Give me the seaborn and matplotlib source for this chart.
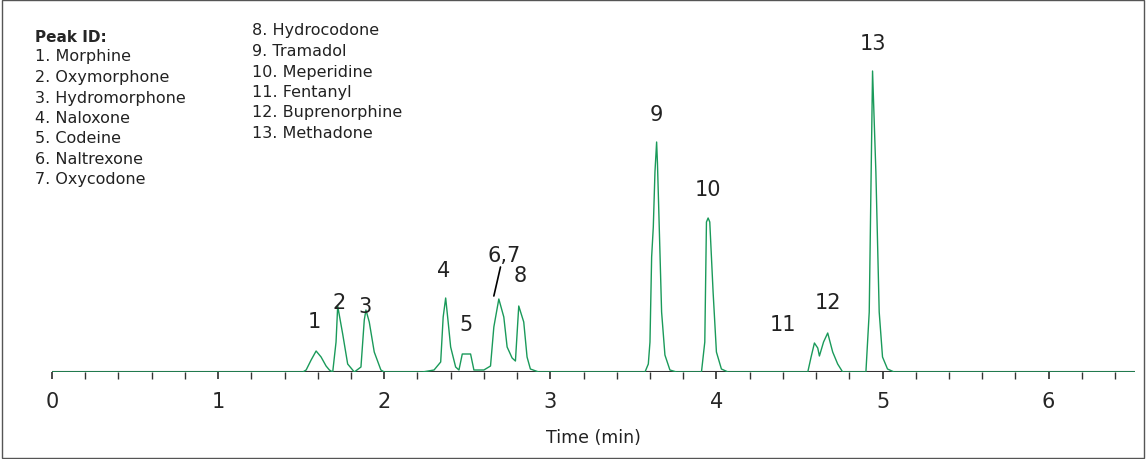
import matplotlib
matplotlib.use("Agg")
import matplotlib.pyplot as plt
import seaborn as sns
import pandas as pd
from matplotlib.ticker import MultipleLocator

# chromatogram trace (time in min, signal in arbitrary units)
time = [0.0, 1.51, 1.53, 1.56, 1.59, 1.62, 1.65, 1.67, 1.69, 1.71, 1.72, 1.75, 1.78, 1.82,
        1.86, 1.88, 1.89, 1.91, 1.94, 1.98, 2.00, 2.23, 2.30, 2.34, 2.355, 2.37, 2.385,
        2.40, 2.43, 2.45, 2.47, 2.52, 2.54, 2.60, 2.64, 2.66, 2.69, 2.72, 2.74, 2.77,
        2.79, 2.81, 2.84, 2.86, 2.88, 2.93, 3.57, 3.59, 3.60, 3.61, 3.62, 3.63, 3.64,
        3.645, 3.66, 3.67, 3.69, 3.72, 3.76, 3.91, 3.93, 3.94, 3.95, 3.96, 3.98, 4.00,
        4.03, 4.07, 4.55, 4.57, 4.59, 4.61, 4.62, 4.645, 4.67, 4.70, 4.73, 4.76, 4.90,
        4.92, 4.94, 4.96, 4.98, 5.00, 5.03, 5.07, 6.52]
signal = [0, 0, 2, 12, 21, 15, 6, 2, 0, 30, 66, 38, 8, 0,
          5, 52, 62, 50, 20, 2, 0, 0, 2, 10, 55, 74, 50,
          25, 5, 2, 18, 18, 2, 2, 6, 45, 73, 55, 25, 14,
          11, 66, 50, 15, 3, 0, 0, 8, 30, 115, 145, 200, 230,
          209, 120, 60, 17, 2, 0, 0, 30, 150, 154, 150, 80, 20,
          3, 0, 0, 15, 29, 24, 16, 30, 39, 20, 8, 0, 0,
          60, 301, 200, 60, 15, 3, 0, 0]

peak_labels = ["1", "2", "3", "4", "5", "6,7", "8", "9", "10", "11", "12", "13"]
label_x = [1.58, 1.73, 1.885, 2.36, 2.49, 2.72, 2.82, 3.64, 3.95, 4.40, 4.67, 4.94]
label_y = [51, 70, 66, 102, 48, 117, 97, 258, 183, 48, 70, 329]

peak_ids = ["1. Morphine", "2. Oxymorphone", "3. Hydromorphone", "4. Naloxone",
            "5. Codeine", "6. Naltrexone", "7. Oxycodone", "8. Hydrocodone",
            "9. Tramadol", "10. Meperidine", "11. Fentanyl", "12. Buprenorphine",
            "13. Methadone"]

sns.set_theme(style="white")
plt.rcParams['font.family'] = ['DejaVu Sans']

fig = plt.figure(figsize=(11.46, 4.6), dpi=100)
fig.patches.append(plt.Rectangle((0.002, 0.002), 0.996, 0.996, transform=fig.transFigure,
                                 fill=False, edgecolor="#555555", linewidth=1))
ax = fig.add_axes([52 / 1146, 87 / 460, 1083 / 1146, 368 / 460])

df = pd.DataFrame({"time": time, "signal": signal})
ax.axhline(0, color="#333333", linewidth=1.5, zorder=1)
sns.lineplot(data=df, x="time", y="signal", ax=ax, color="#1a9a5a", linewidth=1, zorder=2)

ax.set_xlim(0, 6.52)
ax.set_ylim(0, 368)
for s in ["top", "right", "left", "bottom"]:
    ax.spines[s].set_visible(False)
ax.set_yticks([])
ax.set_ylabel("")
ax.xaxis.set_major_locator(MultipleLocator(1))
ax.xaxis.set_minor_locator(MultipleLocator(0.2))
ax.tick_params(axis="x", which="both", bottom=True, direction="out", length=5,
               color="#333333", labelsize=15, pad=9)
ax.set_xlabel("Time (min)", fontsize=12.5, color="#222222", labelpad=12)

for lab, x, y in zip(peak_labels, label_x, label_y):
    ax.text(x, y, lab, ha="center", va="center", fontsize=15, color="#222222")
ax.plot([2.7, 2.66], [105, 76], color="black", linewidth=1.2)

# peak id legend
fig.text(35 / 1146, 1 - 37 / 460, "Peak ID:", fontsize=11, fontweight="bold", va="center")
for i, name in enumerate(peak_ids):
    col = 0 if i < 7 else 1
    row = i if i < 7 else i - 7
    x = 35 if col == 0 else 252
    y = 57 + 20.5 * row if col == 0 else 31 + 20.5 * row
    fig.text(x / 1146, 1 - y / 460, name, fontsize=11.5, va="center", color="#222222")

fig.savefig("out.png", dpi=100)
